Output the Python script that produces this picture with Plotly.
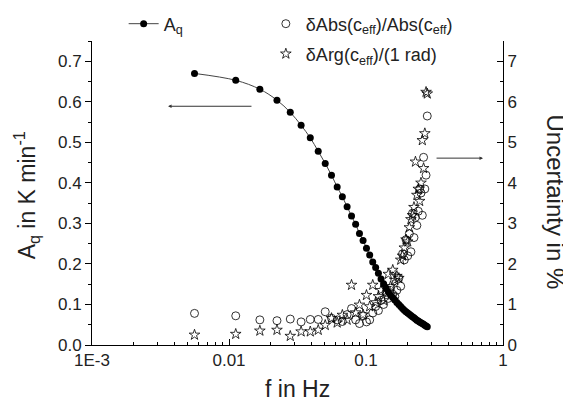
import plotly.graph_objects as go

# Harmonic frequencies in Hz
freq = [0.0056, 0.0112, 0.0168, 0.0224, 0.0280, 0.0336, 0.0392, 0.0448, 0.0504, 0.0560,
        0.0616, 0.0672, 0.0728, 0.0784, 0.0840, 0.0896, 0.0952, 0.1008, 0.1064, 0.1120,
        0.1176, 0.1232, 0.1288, 0.1344, 0.1400, 0.1456, 0.1512, 0.1568, 0.1624, 0.1680,
        0.1736, 0.1792, 0.1848, 0.1904, 0.1960, 0.2016, 0.2072, 0.2128, 0.2184, 0.2240,
        0.2296, 0.2352, 0.2408, 0.2464, 0.2520, 0.2576, 0.2632, 0.2688, 0.2744, 0.2800]

# A_q in K/min
aq = [0.670, 0.653, 0.631, 0.604, 0.574, 0.542, 0.511, 0.478, 0.448, 0.419,
      0.390, 0.366, 0.341, 0.318, 0.298, 0.275, 0.258, 0.239, 0.222, 0.205,
      0.191, 0.177, 0.163, 0.151, 0.140, 0.131, 0.123, 0.117, 0.111, 0.105,
      0.100, 0.095, 0.090, 0.086, 0.082, 0.079, 0.076, 0.073, 0.070, 0.067,
      0.064, 0.061, 0.059, 0.057, 0.055, 0.053, 0.051, 0.049, 0.047, 0.045]

# Uncertainty of Abs(c_eff) in %
d_abs = [0.78, 0.72, 0.62, 0.60, 0.64, 0.57, 0.63, 0.63, 0.82, 0.66,
         0.62, 0.58, 0.75, 0.90, 0.62, 0.53, 0.72, 0.57, 0.62, 0.79,
         0.95, 0.85, 1.10, 1.00, 1.30, 1.15, 1.40, 1.25, 1.20, 1.35,
         1.65, 1.45, 2.25, 2.10, 2.60, 2.20, 2.75, 2.30, 3.25, 2.65,
         3.15, 2.95, 3.30, 3.85, 3.75, 3.20, 4.63, 3.85, 4.19, 5.65]

# Uncertainty of Arg(c_eff) in %
d_arg = [0.25, 0.27, 0.35, 0.37, 0.22, 0.33, 0.33, 0.37, 0.49, 0.66,
         0.55, 0.74, 0.62, 1.48, 0.80, 0.99, 0.75, 1.23, 0.95, 1.48,
         1.05, 1.20, 1.35, 1.10, 1.40, 1.75, 1.45, 1.85, 1.60, 1.70,
         1.65, 2.10, 2.20, 2.40, 2.60, 2.55, 2.90, 3.10, 3.20, 3.40,
         4.52, 3.70, 3.85, 3.55, 4.00, 5.05, 4.36, 5.22, 6.24, 6.20]

left_ticks = [0.0, 0.1, 0.2, 0.3, 0.4, 0.5, 0.6, 0.7]
right_ticks = [0, 1, 2, 3, 4, 5, 6, 7]
x_tickvals = [0.001, 0.01, 0.1, 1]
x_ticktext = ["1E-3", "0.01", "0.1", "1"]

FONT = "Liberation Sans, Arial, sans-serif"

fig = go.Figure()
fig.add_trace(go.Scatter(
    x=freq, y=aq, mode="lines+markers", name="A<sub>q</sub>",
    line=dict(color="#444444", width=1, shape="spline"),
    marker=dict(color="black", size=7, symbol="circle"),
    legend="legend", yaxis="y"))
fig.add_trace(go.Scatter(
    x=freq, y=d_abs, mode="markers", name="δAbs(c<sub>eff</sub>)/Abs(c<sub>eff</sub>)",
    marker=dict(color="black", size=8, symbol="circle-open", line=dict(width=0.8)),
    legend="legend2", yaxis="y2"))
fig.add_trace(go.Scatter(
    x=freq, y=d_arg, mode="markers", name="δArg(c<sub>eff</sub>)/(1 rad)",
    marker=dict(color="black", size=8, symbol="star-open", line=dict(width=0.8)),
    legend="legend3", yaxis="y2"))

axis_common = dict(showgrid=False, zeroline=False, showline=True, linecolor="black",
                   linewidth=1, tickcolor="black", automargin=False,
                   tickfont=dict(family=FONT, size=17, color="#222"))

leg_common = dict(font=dict(size=18, family=FONT, color="#222"), bgcolor="rgba(0,0,0,0)",
                  tracegroupgap=0, itemwidth=30, xanchor="left", yanchor="middle")

fig.update_layout(
    width=563, height=396,
    margin=dict(l=84, r=68, t=33, b=59, autoexpand=False),
    paper_bgcolor="white", plot_bgcolor="white",
    font=dict(family=FONT, color="#222"),
    xaxis=dict(type="log", range=[-3, 0], tickvals=x_tickvals, ticktext=x_ticktext,
               ticks="inside", ticklen=6,
               minor=dict(ticks="inside", ticklen=3, dtick="D1", tickcolor="black"),
               **axis_common),
    yaxis=dict(range=[0, 0.75], tickvals=left_ticks, tickformat=".1f",
               ticks="outside", ticklen=6,
               minor=dict(ticks="outside", ticklen=3, dtick=0.05, tickcolor="black"),
               **axis_common),
    yaxis2=dict(range=[0, 7.5], tickvals=right_ticks, overlaying="y", side="right",
                ticks="inside", ticklen=6,
                minor=dict(ticks="inside", ticklen=3, dtick=0.5, tickcolor="black"),
                **axis_common),
    legend=dict(x=0.077, y=1.056, **leg_common),
    legend2=dict(x=0.423, y=1.056, **leg_common),
    legend3=dict(x=0.423, y=0.957, **leg_common),
    showlegend=True,
)

fig.add_annotation(text="A<sub>q</sub> in K min<sup>-1</sup>", textangle=-90,
                   xref="paper", yref="paper", x=-0.16, y=0.493,
                   xanchor="center", yanchor="middle",
                   showarrow=False, font=dict(size=23, family=FONT, color="#222"))
fig.add_annotation(text="Uncertainty in %", textangle=90,
                   xref="paper", yref="paper", x=1.128, y=0.47,
                   xanchor="center", yanchor="middle",
                   showarrow=False, font=dict(size=24, family=FONT, color="#222"))
fig.add_annotation(text="f in Hz", xref="paper", yref="paper", x=0.501, y=-0.145,
                   xanchor="center", yanchor="middle",
                   showarrow=False, font=dict(size=23, family=FONT, color="#222"))

# Arrows indicating which axis belongs to which data
fig.add_annotation(x=-2.445, y=0.589, ax=-1.825, ay=0.589, xref="x", yref="y",
                   axref="x", ayref="y", showarrow=True, arrowhead=2, arrowsize=0.7,
                   arrowwidth=1, arrowcolor="#333", text="")
fig.add_annotation(x=-0.146, y=4.61, ax=-0.496, ay=4.61, xref="x", yref="y2",
                   axref="x", ayref="y2", showarrow=True, arrowhead=2, arrowsize=0.7,
                   arrowwidth=1, arrowcolor="#333", text="")

fig.write_html("out.html")
